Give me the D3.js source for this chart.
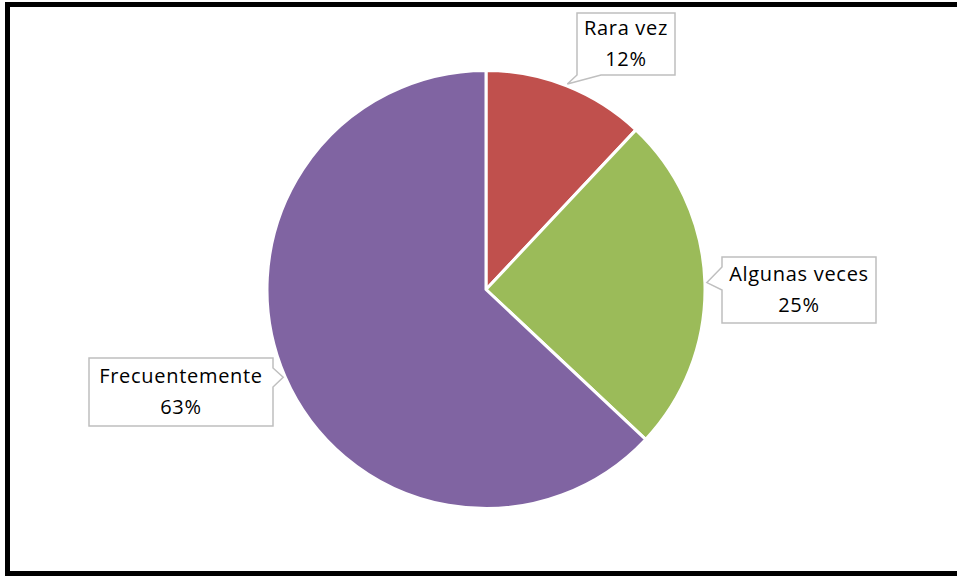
<!DOCTYPE html>
<html>
<head>
<meta charset="utf-8">
<script src="https://cdn.jsdelivr.net/npm/d3@7"></script>
<style>
  body { margin: 0; background: #fff; overflow: hidden; }
  svg { display: block; }
  text { font-family: "Open Sans", sans-serif; font-size: 20px; letter-spacing: 0.7px; fill: #000; }
</style>
</head>
<body>
<script>
var categories = ["Rara vez", "Algunas veces", "Frecuentemente"];
var values = [12, 25, 63];
var colours = ["#C0504D", "#9BBB59", "#8064A2"];

var width = 957,
    height = 576;

// -- pie geometry --
var cx = 486, cy = 289.5, radius = 219;

// callout boxes [x, y, w, h] and the side the wedge sits on
var boxes = [
    { x: 577, y: 13, w: 98, h: 62, side: "bottom" },
    { x: 722, y: 257, w: 154, h: 66, side: "left" },
    { x: 89, y: 358, w: 184, h: 68, side: "right" }
];

var svg = d3.select("body")
    .append("svg")
    .attr("width", width)
    .attr("height", height);

// outer frame, right edge runs off the picture
svg.append("path")
    .attr("d", "M" + (width + 10) + ",4.5H7.5V573.5H" + (width + 10))
    .attr("fill", "white")
    .attr("stroke", "black")
    .attr("stroke-width", 5);

var data = categories.map(function(c, i) { return { name: c, value: values[i], colour: colours[i] }; });

var pie = d3.pie()
    .sort(null)
    .value(function(d) { return d.value; });

var arc = d3.arc()
    .innerRadius(0)
    .outerRadius(radius);

var tipArc = d3.arc()
    .innerRadius(radius + 2)
    .outerRadius(radius + 2);

var g = svg.append("g")
    .attr("transform", "translate(" + cx + "," + cy + ")");

var arcs = pie(data);

g.selectAll("path.slice")
    .data(arcs)
    .enter()
    .append("path")
    .attr("class", "slice")
    .attr("d", arc)
    .attr("fill", function(d) { return d.data.colour; })
    .attr("stroke", "white")
    .attr("stroke-width", 3)
    .attr("stroke-linejoin", "round");

// callouts
function calloutPath(b, tip) {
    var x0 = b.x, y0 = b.y, x1 = b.x + b.w, y1 = b.y + b.h;
    var p = [];
    if (b.side == "bottom") {
        p = [[x0, y0], [x1, y0], [x1, y1], [x0 + 24, y1], tip, [x0, y1]];
    } else if (b.side == "left") {
        p = [[x0, y0], [x1, y0], [x1, y1], [x0, y1], [x0, y0 + 33], tip, [x0, y0 + 10]];
    } else {
        p = [[x0, y0], [x1, y0], [x1, y0 + 10], tip, [x1, y0 + 29], [x1, y1], [x0, y1]];
    }
    return "M" + p.map(function(q) { return q[0] + "," + q[1]; }).join("L") + "Z";
}

arcs.forEach(function(d, i) {
    var c = tipArc.centroid(d);
    var tip = [cx + c[0], cy + c[1]];
    var b = boxes[i];
    svg.append("path")
        .attr("d", calloutPath(b, tip))
        .attr("fill", "white")
        .attr("stroke", "#BFBFBF")
        .attr("stroke-width", 1.5);

    var t = svg.append("text")
        .attr("text-anchor", "middle")
        .attr("x", b.x + b.w / 2)
        .attr("y", b.y + b.h / 2 + 3);
    t.append("tspan")
        .attr("x", b.x + b.w / 2)
        .attr("dy", "-0.6em")
        .text(d.data.name);
    t.append("tspan")
        .attr("x", b.x + b.w / 2)
        .attr("dy", "1.55em")
        .text(d.data.value + "%");
});
</script>
</body>
</html>
